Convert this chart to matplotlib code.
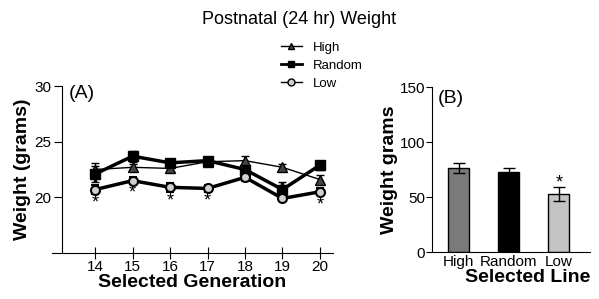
import matplotlib
matplotlib.use("Agg")
import matplotlib.pyplot as plt
from matplotlib.lines import Line2D

plt.rcParams['font.family'] = ['Liberation Sans', 'DejaVu Sans']

# panel A data
generations = [14, 15, 16, 17, 18, 19, 20]
high = [22.5, 22.7, 22.6, 23.2, 23.3, 22.7, 21.6]
high_err = [0.6, 0.3, 0.3, 0.2, 0.4, 0.3, 0.4]
random_ = [22.1, 23.7, 23.1, 23.3, 22.5, 20.7, 22.9]
random_err = [0.7, 0.5, 0.3, 0.2, 0.3, 0.7, 0.4]
low = [20.7, 21.5, 20.9, 20.8, 21.8, 19.9, 20.5]
low_err = [0.4, 0.3, 0.4, 0.3, 0.3, 0.2, 0.3]
starred = [14, 15, 16, 17, 20]

# panel B data
lines = ['High', 'Random', 'Low']
weights = [76.5, 72.5, 52.5]
weights_err = [4.5, 3.5, 6.5]
bar_colors = ['#7a7a7a', '#000000', '#c4c4c4']

fig = plt.figure(figsize=(5.99, 2.99), dpi=100)
fig.text(0.5, 0.935, 'Postnatal (24 hr) Weight', ha='center', va='center', fontsize=13)

# ---- panel A
ax = fig.add_axes([0.087, 0.154, 0.469, 0.558])
ax.errorbar(generations, high, yerr=high_err, color='black', lw=1, marker='^',
            ms=6.5, mfc='#444444', mec='black', capsize=3)
ax.errorbar(generations, random_, yerr=random_err, color='black', lw=2.5, marker='s',
            ms=6.5, capsize=3)
ax.errorbar(generations, low, yerr=low_err, color='black', lw=2.5, marker='o',
            ms=6.5, mfc='#d0d0d0', mec='black', mew=1.5, capsize=3)
for g in starred:
    i = generations.index(g)
    ax.text(g, low[i] - low_err[i] - 0.85, '*', ha='center', va='center', fontsize=13)

ax.set_xlim(12.85, 20.35)
ax.set_ylim(15, 30)
ax.spines['top'].set_visible(False)
ax.spines['right'].set_visible(False)
ax.spines['left'].set_position(('data', 13.12))
ax.set_xticks(generations)
ax.set_yticks([20, 25, 30])
ax.tick_params(axis='x', direction='inout', length=8, labelsize=11, pad=1)
ax.tick_params(axis='y', direction='out', length=6, labelsize=11, pad=2)
ax.set_xlabel('Selected Generation', fontsize=14, fontweight='bold', labelpad=0)
ax.set_ylabel('Weight (grams)', fontsize=14, fontweight='bold', labelpad=2)
ax.text(13.3, 29.3, '(A)', fontsize=14, va='center')

handles = [
    Line2D([], [], color='black', lw=1, marker='^', ms=5, mfc='#444444'),
    Line2D([], [], color='black', lw=2, marker='s', ms=5),
    Line2D([], [], color='black', lw=1, marker='o', ms=5, mfc='#d0d0d0'),
]
fig.legend(handles, lines, loc='center left', bbox_to_anchor=(0.458, 0.78), frameon=False,
           fontsize=9.5, handlelength=1.6, labelspacing=0.45, handletextpad=0.8,
           borderpad=0)

# ---- panel B
bx = fig.add_axes([0.721, 0.157, 0.264, 0.552])
bx.bar(range(len(lines)), weights, width=0.42, color=bar_colors, edgecolor='black', lw=1)
bx.errorbar(range(len(lines)), weights, yerr=weights_err, fmt='none', ecolor='black',
            lw=1, capsize=4)
bx.text(2, weights[2] + weights_err[2] + 4, '*', ha='center', va='center', fontsize=13)
bx.set_xlim(-0.54, 2.62)
bx.set_ylim(0, 150)
bx.set_yticks([0, 50, 100, 150])
bx.set_xticks(range(len(lines)))
bx.set_xticklabels(lines)
bx.spines['top'].set_visible(False)
bx.spines['right'].set_visible(False)
bx.tick_params(axis='x', length=0, labelsize=11, pad=2)
bx.tick_params(axis='y', direction='out', length=4, labelsize=11, pad=1)
bx.set_xlabel('Selected Line', fontsize=14, fontweight='bold', labelpad=0, loc='right')
bx.set_ylabel('Weight grams', fontsize=14, fontweight='bold', labelpad=1)
bx.text(0.04, 0.93, '(B)', transform=bx.transAxes, fontsize=14, va='center')

fig.savefig('out.png', dpi=100)
